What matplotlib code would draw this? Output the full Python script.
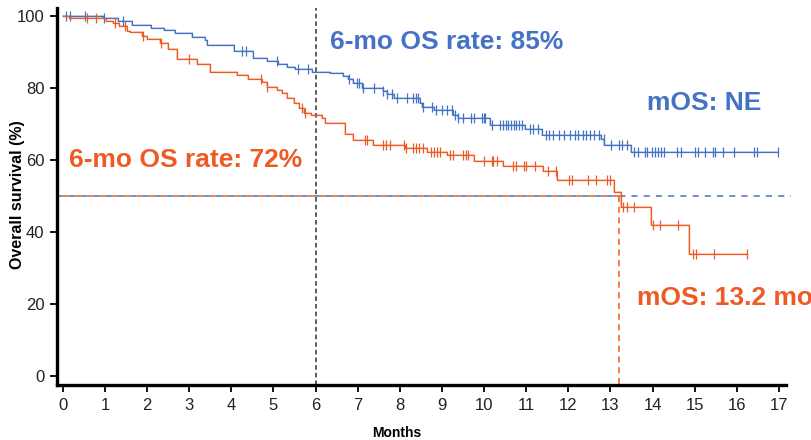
import numpy as np
import matplotlib.pyplot as plt

plt.rcParams['font.family'] = ['Liberation Sans', 'DejaVu Sans']

BLUE = '#4472C4'
RED = '#EE5A24'

# step curves: time (months) at which survival drops, and survival (%) after the drop
blue_t = [0, 0.95, 1.3, 1.65, 2.1, 2.4, 2.65, 3.07, 3.38, 3.42, 4.07, 4.52, 4.85, 5.1,
          5.33, 5.52, 5.92, 6.35, 6.66, 6.76, 6.9, 7.1, 7.6, 7.7, 7.85, 8.49, 8.53, 8.8,
          9.27, 9.37, 10.15, 10.98, 11.38, 12.77, 12.86, 13.5]
blue_s = [100, 99.3, 98.6, 97.5, 96.7, 96.1, 95.2, 94.1, 93.3, 91.9, 90.1, 88.2, 87.6, 86.6,
          85.9, 85.2, 84.5, 84.1, 83.3, 82.5, 81.3, 79.9, 79.0, 78.2, 77.3, 75.9, 74.6, 73.9,
          72.5, 71.6, 69.6, 68.5, 66.8, 65.7, 64.2, 62.1]
blue_end = 16.98
blue_cens = [0.07, 0.17, 0.52, 0.97, 1.43, 4.26, 4.35, 5.09, 5.59, 5.83,
             6.80, 6.99, 7.04, 7.13, 7.39, 7.61, 7.70, 7.82, 7.94, 8.18, 8.32, 8.39, 8.44, 8.56,
             8.77, 8.87, 9.01, 9.11, 9.25, 9.30, 9.39, 9.49, 9.70, 9.75, 9.94, 9.99, 10.03, 10.18,
             10.37, 10.44, 10.51, 10.56, 10.63, 10.70, 10.77, 10.84, 10.91, 11.10, 11.17, 11.27,
             11.46, 11.55, 11.63, 11.79, 11.89, 12.03, 12.15, 12.24, 12.34, 12.43, 12.51, 12.62,
             12.72, 12.84, 13.01, 13.20, 13.27, 13.39, 13.55, 13.65, 13.81, 13.88, 13.98, 14.05,
             14.12, 14.19, 14.27, 14.57, 14.67, 15.00, 15.07, 15.24, 15.43, 15.48, 15.67, 15.93,
             16.40, 16.48, 16.98]

red_t = [0, 0.15, 1.02, 1.2, 1.34, 1.52, 1.6, 1.88, 2.0, 2.31, 2.5, 2.71, 3.18, 3.5, 4.14,
         4.4, 4.73, 4.85, 5.08, 5.2, 5.32, 5.48, 5.6, 5.72, 5.88, 6.15, 6.23, 6.7, 6.9, 7.37,
         8.13, 8.65, 9.13, 9.75, 10.44, 11.39, 11.74, 13.08, 13.24, 13.96, 14.86]
red_s = [100, 99.4, 98.7, 97.9, 97.2, 95.9, 95.4, 94.3, 93.5, 92.4, 90.7, 88.0, 86.6, 84.5, 83.6,
         82.5, 81.5, 80.2, 79.4, 78.5, 77.1, 75.7, 74.4, 73.0, 72.5, 71.6, 70.2, 67.1, 65.6, 64.0,
         63.2, 62.1, 61.4, 59.7, 58.4, 56.8, 54.4, 51.2, 47.0, 41.9, 33.8]
red_end = 16.24
red_cens = [0.57, 0.79, 1.24, 1.47, 1.9, 2.33, 3.0, 4.7, 4.85, 5.68, 5.76,
            7.18, 7.22, 7.61, 7.68, 7.77, 8.11, 8.15, 8.32, 8.39, 8.46, 8.56, 8.73, 8.80, 8.89,
            8.96, 9.20, 9.27, 9.49, 9.56, 9.63, 9.99, 10.18, 10.22, 10.30, 10.68, 10.75, 10.94,
            10.99, 11.20, 11.51, 11.72, 12.01, 12.10, 12.46, 12.67, 12.93, 13.00, 13.29, 13.39,
            13.55, 14.00, 14.17, 14.60, 14.95, 15.03, 15.45, 16.24]

rate_month = 6
median_red = 13.2
x_ticks = list(range(0, 18))
y_ticks = [0, 20, 40, 60, 80, 100]


def step_value(times, surv, at):
    idx = np.searchsorted(times, at, side='right') - 1
    return np.array(surv)[idx]


def draw_curve(ax, times, surv, end, cens, color):
    xs = list(times) + [end]
    ys = list(surv) + [surv[-1]]
    ax.plot(xs, ys, drawstyle='steps-post', color=color, lw=1.1, alpha=0.35,
            solid_joinstyle='miter', zorder=3)
    ax.plot(xs, ys, drawstyle='steps-post', color=color, lw=0.9, zorder=4)
    cens = np.array(cens)
    ax.plot(cens, step_value(times, surv, cens), ls='none', marker='|',
            ms=7, mew=0.9, color=color, zorder=4)


fig = plt.figure(figsize=(8.12, 4.4), dpi=100)
ax = fig.add_axes([0.0702, 0.125, 0.8978, 0.857])

draw_curve(ax, blue_t, blue_s, blue_end, blue_cens, BLUE)
draw_curve(ax, red_t, red_s, red_end, red_cens, RED)

# reference lines
ax.axvline(rate_month, color='#333333', ls=(0, (3, 2)), lw=1.1, zorder=2)
ax.plot([-0.14, 17.3], [50, 50], color=BLUE, ls=(0, (4, 4)), lw=1.1, clip_on=False, zorder=2)
ax.plot([-0.14, median_red], [50, 50], color=RED, ls=(4, (4, 4)), lw=1.1, zorder=2)
ax.plot([median_red, median_red], [50, -2.5], color=RED, ls=(0, (4, 3)), lw=1.1, zorder=2)

# annotations
ax.text(6.35, 92.8, '6-mo OS rate: 85%', color=BLUE, fontsize=19, fontweight='bold',
        va='center', ha='left')
ax.text(13.86, 75.8, 'mOS: NE', color=BLUE, fontsize=19, fontweight='bold',
        va='center', ha='left')
ax.text(0.15, 60.0, '6-mo OS rate: 72%', color=RED, fontsize=19, fontweight='bold',
        va='center', ha='left')
ax.text(13.62, 21.7, 'mOS: 13.2 mo', color=RED, fontsize=19, fontweight='bold',
        va='center', ha='left', clip_on=False)

ax.set_xlim(-0.14, 17.17)
ax.set_ylim(-2.5, 102.2)
ax.set_xticks(x_ticks)
ax.set_yticks(y_ticks)
ax.tick_params(axis='both', direction='out', length=5, width=1.3, labelsize=12,
               colors='black', labelcolor='#222222', pad=4)
for side in ['top', 'right']:
    ax.spines[side].set_visible(False)
for side in ['left', 'bottom']:
    ax.spines[side].set_linewidth(2.4)

ax.set_xlabel('Months', fontsize=10, fontweight='bold')
ax.set_ylabel('Overall survival (%)', fontsize=11.5, fontweight='bold')
ax.xaxis.set_label_coords(0.466, -0.11)
ax.yaxis.set_label_coords(-0.044, 0.504)

fig.savefig('out.png', dpi=100)
